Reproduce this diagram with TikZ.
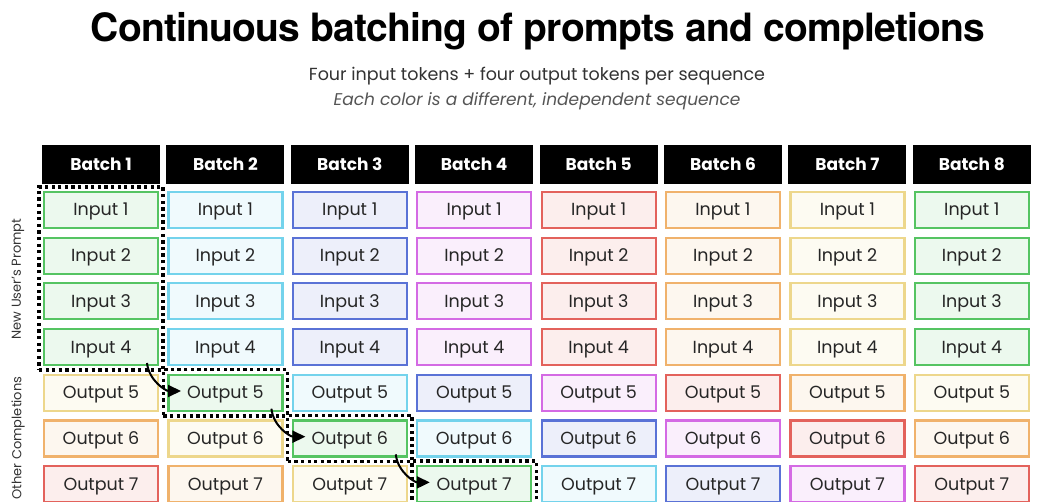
\documentclass[tikz,border=0pt]{standalone}
\usepackage{fontspec}
\setmainfont{Poppins}
\newfontfamily\titlefont[LetterSpace=-2]{TeX Gyre Heros}
\usetikzlibrary{arrows.meta,fit}

% sequence colours: border tones, fills are tints of them
\definecolor{seq0}{HTML}{55C462}% green
\definecolor{seq1}{HTML}{74D3EC}% cyan
\definecolor{seq2}{HTML}{5A72D6}% blue
\definecolor{seq3}{HTML}{D46AE4}% magenta
\definecolor{seq4}{HTML}{E3625C}% red
\definecolor{seq5}{HTML}{F0B26C}% orange
\definecolor{seq6}{HTML}{EDD78C}% yellow
\definecolor{ink}{HTML}{262626}
\definecolor{subink}{HTML}{333333}
\definecolor{subink2}{HTML}{555555}

\begin{document}
\begin{tikzpicture}[x=1pt,y=-1pt,
  tok/.style={draw=#1, fill=#1!11!white, line width=2.2pt,
    minimum width=114pt, minimum height=36pt, inner sep=0pt,
    text height=12pt, text depth=0pt,
    font=\fontsize{17.5}{17.5}\selectfont, text=ink},
  hdr/.style={fill=black, minimum width=118pt, minimum height=39pt,
    inner sep=0pt, text height=12pt, text depth=0pt,
    text=white, font=\bfseries\fontsize{17}{17}\selectfont},
  grp/.style={draw=black, line width=3.5pt, dash pattern=on 3.3pt off 3.3pt,
    inner sep=4pt},
  flow/.style={-{Triangle[length=13pt,width=12pt]}, line width=2pt},
  side/.style={rotate=90, font=\fontsize{13}{13}\selectfont, text=subink}
]
\clip (0,0) rectangle (1037,502);
\fill[white] (0,0) rectangle (1037,502);

% title and subtitles
\node[anchor=base, inner sep=0pt, font=\titlefont\bfseries\fontsize{39}{39}\selectfont] (title) at (538,42)
  {Continuous batching of prompts and completions};
\node[anchor=base, inner sep=0pt, font=\fontsize{17.5}{17.5}\selectfont, text=subink] (sub1) at (537,81)
  {Four input tokens + four output tokens per sequence};
\node[anchor=base, inner sep=0pt, font=\itshape\fontsize{17}{17}\selectfont, text=subink2] (sub2) at (537,106)
  {Each color is a different, independent sequence};

% batch headers and token grid
\foreach \j in {1,...,8}{
  \pgfmathsetmacro\cx{101+124.4*(\j-1)}
  \node[hdr] (h\j) at (\cx,164.5) {Batch \j};
  \foreach \r in {1,...,7}{
    \pgfmathsetmacro\cy{210+45.7*(\r-1)}
    \ifnum\r<5
      \pgfmathtruncatemacro\idx{mod(\j-1,7)}
      \node[tok=seq\idx] (c-\r-\j) at (\cx,\cy) {Input \r};
    \else
      \pgfmathtruncatemacro\idx{mod(\j+10-\r,7)}
      \node[tok=seq\idx] (c-\r-\j) at (\cx,\cy) {Output \r};
    \fi
  }
}

% side labels
\node[side] (lblin) at (18,279) {New User’s Prompt};
\node[side] (lblout) at (18,438) {Other Completions};

% the tracked sequence, step by step
\node[grp, fit=(c-1-1)(c-4-1)] (g1) {};
\node[grp, fit=(c-5-2)] (g2) {};
\node[grp, fit=(c-6-3)] (g3) {};
\node[grp, fit=(c-7-4)] (g4) {};

\coordinate (a1s) at (147,363);
\coordinate (a1e) at (181,391);
\coordinate (a2s) at (271.4,408.7);
\coordinate (a2e) at (305.4,436.7);
\coordinate (a3s) at (395.8,454.4);
\coordinate (a3e) at (429.8,482.4);
\draw[flow] (a1s) .. controls +(2,18) and +(-15,0) .. (a1e);
\draw[flow] (a2s) .. controls +(2,18) and +(-15,0) .. (a2e);
\draw[flow] (a3s) .. controls +(2,18) and +(-15,0) .. (a3e);
\end{tikzpicture}
\end{document}
